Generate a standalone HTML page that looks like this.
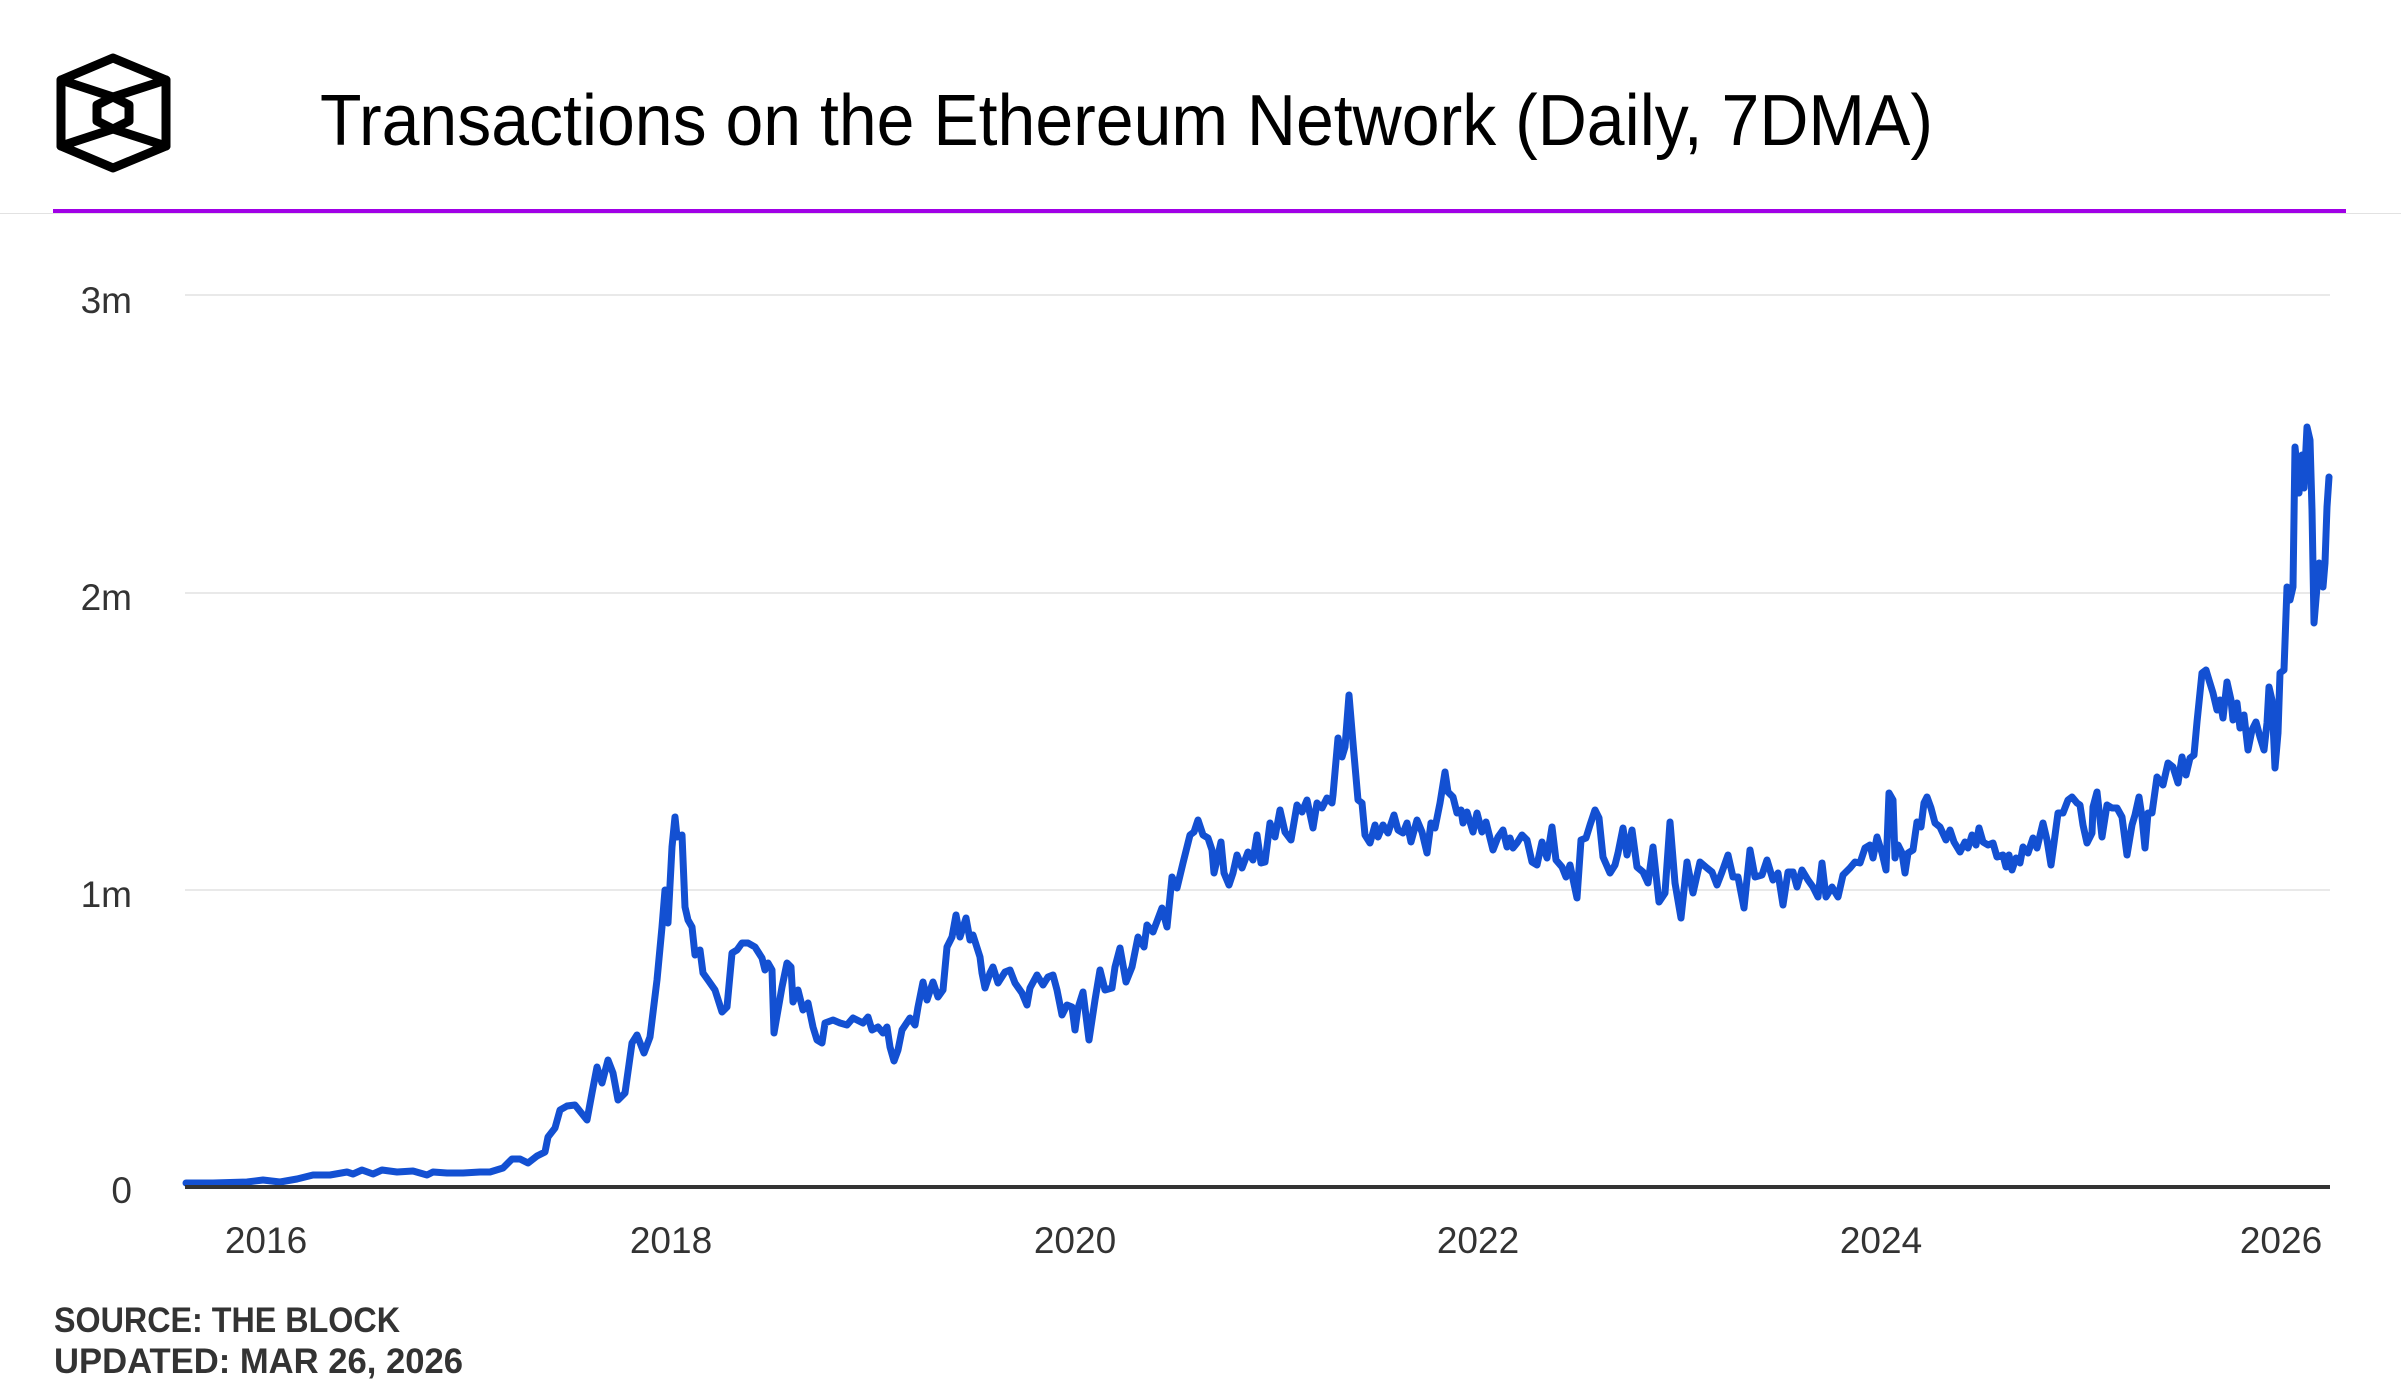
<!DOCTYPE html>
<html>
<head>
<meta charset="utf-8">
<style>
html,body{margin:0;padding:0;background:#fff;}
svg{display:block;}
</style>
</head>
<body>
<svg width="2401" height="1400" viewBox="0 0 2401 1400" xmlns="http://www.w3.org/2000/svg">
<rect width="2401" height="1400" fill="#fff"/>
<!-- logo -->
<g fill="none" stroke="#000" stroke-width="9" stroke-linejoin="round" stroke-linecap="round">
<polygon points="113,58 166,80 166,146 113,168 61,146 61,80"/>
<polygon points="113,97 129,105 129,121 113,129 97,121 97,105"/>
<line x1="61" y1="80" x2="113" y2="97"/>
<line x1="166" y1="80" x2="113" y2="97"/>
<line x1="61" y1="146" x2="113" y2="129"/>
<line x1="166" y1="146" x2="113" y2="129"/>
</g>
<!-- title -->
<text x="320" y="145" font-family="'Liberation Sans', sans-serif" font-size="72" fill="#000" textLength="1613" lengthAdjust="spacingAndGlyphs">Transactions on the Ethereum Network (Daily, 7DMA)</text>
<!-- header lines -->
<rect x="0" y="213" width="2401" height="1" fill="#e2e2e2"/>
<rect x="53" y="209" width="2293" height="4" fill="#a000e6"/>
<!-- gridlines -->
<g fill="#e9e9e9">
<rect x="185" y="294" width="2145" height="2"/>
<rect x="185" y="592" width="2145" height="2"/>
<rect x="185" y="889" width="2145" height="2"/>
</g>
<!-- y labels -->
<g font-family="'Liberation Sans', sans-serif" font-size="37" fill="#333" text-anchor="end">
<text x="132" y="313">3m</text>
<text x="132" y="610">2m</text>
<text x="132" y="907">1m</text>
<text x="132" y="1203">0</text>
</g>
<!-- x labels -->
<g font-family="'Liberation Sans', sans-serif" font-size="37" fill="#333" text-anchor="middle">
<text x="266" y="1253">2016</text>
<text x="671" y="1253">2018</text>
<text x="1075" y="1253">2020</text>
<text x="1478" y="1253">2022</text>
<text x="1881" y="1253">2024</text>
<text x="2281" y="1253">2026</text>
</g>
<!-- series -->
<polyline fill="none" stroke="#1350d2" stroke-width="7" stroke-linejoin="round" stroke-linecap="round" points="
186,1183 213,1183 247,1182 263,1180 280,1182 297,1179 313,1175 330,1175 347,1172 353,1174 362,1170 373,1174 382,1170 397,1172 413,1171 427,1175 433,1172 447,1173 463,1173 480,1172 490,1172 503,1168 512,1159 520,1159 528,1163 537,1156 545,1152 548,1137 555,1128 560,1110 567,1106 575,1105 587,1120 592,1093 597,1067 602,1083 608,1060 613,1073 618,1100 625,1093
632,1043 637,1035 644,1053 650,1037 657,980 662,927 665,890 668,923 672,847 675,817 677,837 682,835 685,907 688,920 692,927 695,955 700,950 703,973 708,980 715,990 722,1012 727,1007 732,953 737,950 742,943 748,943 755,947 762,958 765,970 768,963 772,970 774,1033 778,1010 782,987 787,963 791,967 793,1002 798,990 803,1010 808,1003 813,1027 817,1040 822,1043 825,1023 833,1020 840,1023 847,1025 853,1018 863,1023 868,1017 872,1030 878,1027 883,1033 887,1027 890,1047 894,1061 898,1050 902,1030 910,1018 915,1025 918,1007 923,982 927,1000 933,982 938,997 943,990 947,947 952,937 956,915 960,937 966,918 970,940 973,935 980,957 982,973 985,988 990,973 993,967 998,983 1005,972 1010,970 1015,983 1022,993 1027,1005 1030,988 1037,975 1043,985
1048,977 1053,975 1057,990 1062,1015 1067,1005 1072,1007 1075,1030 1078,1008 1083,992 1089,1040 1095,1000 1100,970 1105,990 1112,988 1115,967 1120,948 1126,982 1132,967 1138,937 1144,947 1147,925 1153,932 1162,908 1167,927 1172,877 1177,888 1183,863 1190,835 1194,832 1198,820 1203,835 1208,838 1212,850 1214,873 1217,860 1221,842 1224,873 1229,885 1233,873 1237,855 1242,868 1248,852 1253,860 1257,835 1261,863 1265,862 1270,823 1275,837 1280,810 1285,832 1291,840 1297,805 1302,812 1307,800 1313,828 1317,803 1322,808 1327,798 1332,803 1333,795 1338,738 1342,757 1345,747 1349,695 1353,743 1358,800 1362,803 1365,835 1370,843 1375,825 1378,837 1383,825 1388,833 1394,815 1398,830 1403,833 1407,823 1411,842 1417,820 1422,832 1427,853 1431,823 1435,828 1440,803 1445,772 1448,792 1453,797 1457,813 1461,810 1463,823 1467,812 1473,832 1477,813 1482,832 1486,822
1493,850 1498,837 1503,830 1507,847 1510,838 1513,848 1517,843 1522,835 1527,840 1532,862 1537,865 1542,842 1547,858 1552,827 1556,860 1562,867 1566,877 1570,865 1577,898 1581,840 1586,838 1590,825 1595,810 1599,818 1603,857 1610,873 1615,865 1618,853 1623,828 1627,855 1632,830 1637,867 1643,872 1648,883 1653,847 1659,902 1665,893 1670,822 1675,883 1681,918 1687,862 1693,893 1700,862 1707,868 1712,872 1717,885 1722,872 1728,855 1733,877 1738,877 1744,908 1750,850 1755,877 1762,875 1767,860 1773,880 1778,873 1783,905 1788,872 1793,872 1797,887 1802,870 1808,880 1813,887 1818,897 1822,863 1826,897 1832,887 1838,897 1843,875 1850,868 1855,862 1860,863 1865,848 1870,845 1873,858 1877,837 1882,853 1886,870 1889,793 1893,800 1895,858 1898,845 1902,853 1905,873
1908,853 1913,850 1917,822 1921,827 1924,803 1927,797 1931,808 1935,823 1940,827 1946,840 1950,830 1954,842 1960,852 1965,842 1968,848 1972,835 1976,845 1979,828 1983,842 1988,845 1993,843 1997,857 2003,855 2006,867 2009,855 2012,870 2016,858 2020,863 2023,847 2028,853 2033,838 2037,848 2043,823 2047,840 2051,865 2054,843 2058,813 2063,813 2068,800 2072,797 2077,803 2080,805 2083,825 2087,843 2092,833 2093,807 2097,792 2102,837 2107,805 2112,808 2117,808 2122,817 2127,855 2132,825 2135,815 2139,797 2142,817 2145,848 2148,813 2152,813 2157,777
2163,785 2168,763 2173,767 2178,783 2182,757 2186,775 2190,758 2194,755 2197,722 2202,673 2206,670 2209,680 2213,693 2217,710 2220,700 2223,718 2227,682 2231,700 2233,720 2237,703 2240,728 2244,715 2248,750 2252,730 2256,722 2260,737 2264,750 2267,723 2269,687 2272,700 2275,768 2278,733 2280,673 2284,670 2287,587 2290,600 2293,587 2295,447 2297,467 2299,493 2302,455 2304,488 2307,427 2310,440 2312,510 2314,623 2317,587 2319,563 2323,587 2325,563 2327,507 2329,477"/>
<!-- x axis -->
<rect x="185" y="1185" width="2145" height="4" fill="#333"/>
<!-- footer -->
<g font-family="'Liberation Sans', sans-serif" font-size="35" font-weight="bold" fill="#333">
<text x="54" y="1332" textLength="346" lengthAdjust="spacingAndGlyphs">SOURCE: THE BLOCK</text>
<text x="54" y="1373" textLength="409" lengthAdjust="spacingAndGlyphs">UPDATED: MAR 26, 2026</text>
</g>
</svg>
</body>
</html>
